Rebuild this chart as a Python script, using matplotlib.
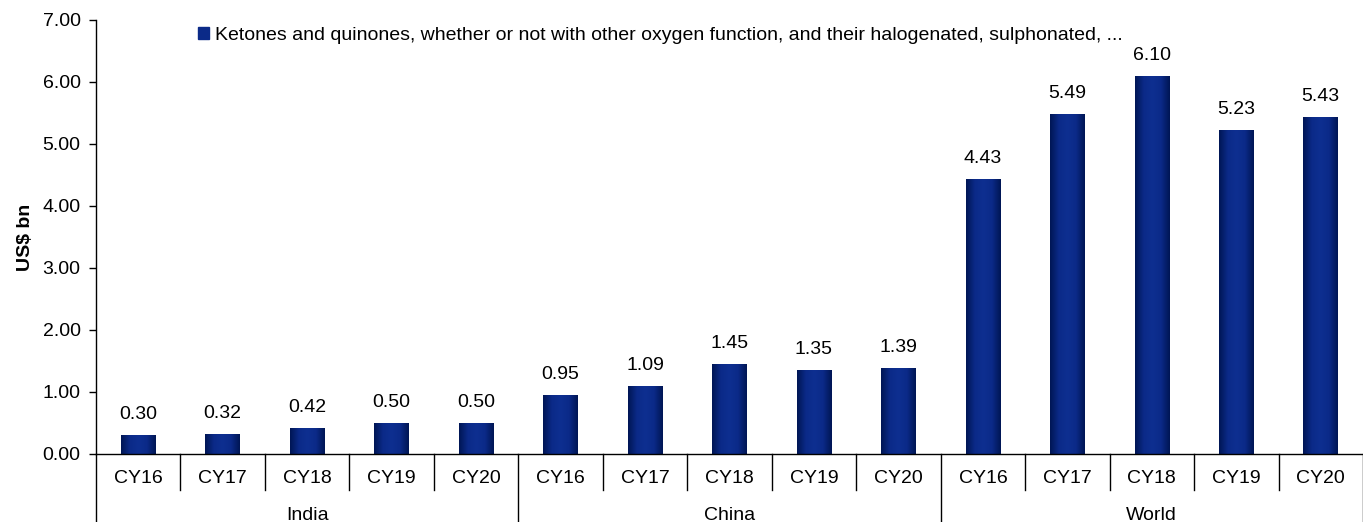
import numpy as np
import matplotlib.pyplot as plt
from matplotlib.colors import LinearSegmentedColormap
from matplotlib.patches import Rectangle

plt.rcParams['font.family'] = ['Liberation Sans', 'DejaVu Sans']

groups = ['India', 'China', 'World']
years = ['CY16', 'CY17', 'CY18', 'CY19', 'CY20']
india = [0.30, 0.32, 0.42, 0.50, 0.50]
china = [0.95, 1.09, 1.45, 1.35, 1.39]
world = [4.43, 5.49, 6.10, 5.23, 5.43]
serie = 'Ketones and quinones, whether or not with other oxygen function, and their halogenated, sulphonated, ...'

valores = india + china + world
rotulos = years * len(groups)
x = np.arange(len(valores))
largura = 0.41
fs = 14

fig = plt.figure(figsize=(13.63, 5.22), dpi=100)
ax = fig.add_axes([0.0704, 0.1303, 0.9296, 0.8314])

# barras com degradê horizontal (bordas escuras, centro mais claro)
cmap = LinearSegmentedColormap.from_list('azul', ['#001655', '#0b2a88', '#0e2f90', '#0b2a88', '#001655'])
grad = np.linspace(0, 1, 64).reshape(1, -1)
barras = ax.bar(x, valores, width=largura, color='#0b2a88', label=serie)
for b in barras:
    b.set_alpha(0)
    im = ax.imshow(grad, cmap=cmap, aspect='auto',
                   extent=[b.get_x(), b.get_x() + b.get_width(), 0, b.get_height()],
                   zorder=2)
    im.set_clip_path(Rectangle((b.get_x(), 0), b.get_width(), b.get_height(),
                               transform=ax.transData))

for xi, v in zip(x, valores):
    ax.annotate(f'{v:.2f}', (xi, v), xytext=(0, 11.5), textcoords='offset points',
                ha='center', va='baseline', fontsize=fs)

ax.set_xlim(-0.5, len(valores) - 0.5)
ax.set_ylim(0, 7)
ax.set_yticks(np.arange(0, 8, 1))
ax.set_yticklabels([f'{t:.2f}' for t in range(8)], fontsize=fs)
ax.tick_params(axis='y', length=5, width=1, pad=6)
ax.set_ylabel('US$ bn', fontsize=fs, fontweight='bold', labelpad=6)

ax.set_xticks([])
for s in ['top', 'right']:
    ax.spines[s].set_visible(False)
ax.spines['left'].set_linewidth(1)
ax.spines['bottom'].set_linewidth(1)

tr = ax.get_xaxis_transform()
for i in range(len(valores) + 1):
    xs = i - 0.5
    fundo = -0.157 if i % 5 == 0 else -0.083
    ax.plot([xs, xs], [0, fundo], color='black', lw=1, transform=tr, clip_on=False)
for xi, r in zip(x, rotulos):
    ax.text(xi, -0.057, r, transform=tr, ha='center', va='center', fontsize=fs)
for g, nome in enumerate(groups):
    ax.text(g * 5 + 2, -0.141, nome, transform=tr, ha='center', va='center', fontsize=fs)

ax.legend(handles=[Rectangle((0, 0), 1, 1, color='#0b2a88')], labels=[serie],
          loc='upper left', bbox_to_anchor=(0.07, 1.016), frameon=False, fontsize=fs,
          handlelength=0.55, handleheight=0.55, handletextpad=0.3, borderaxespad=0.3)

fig.savefig('out.png', dpi=100)
